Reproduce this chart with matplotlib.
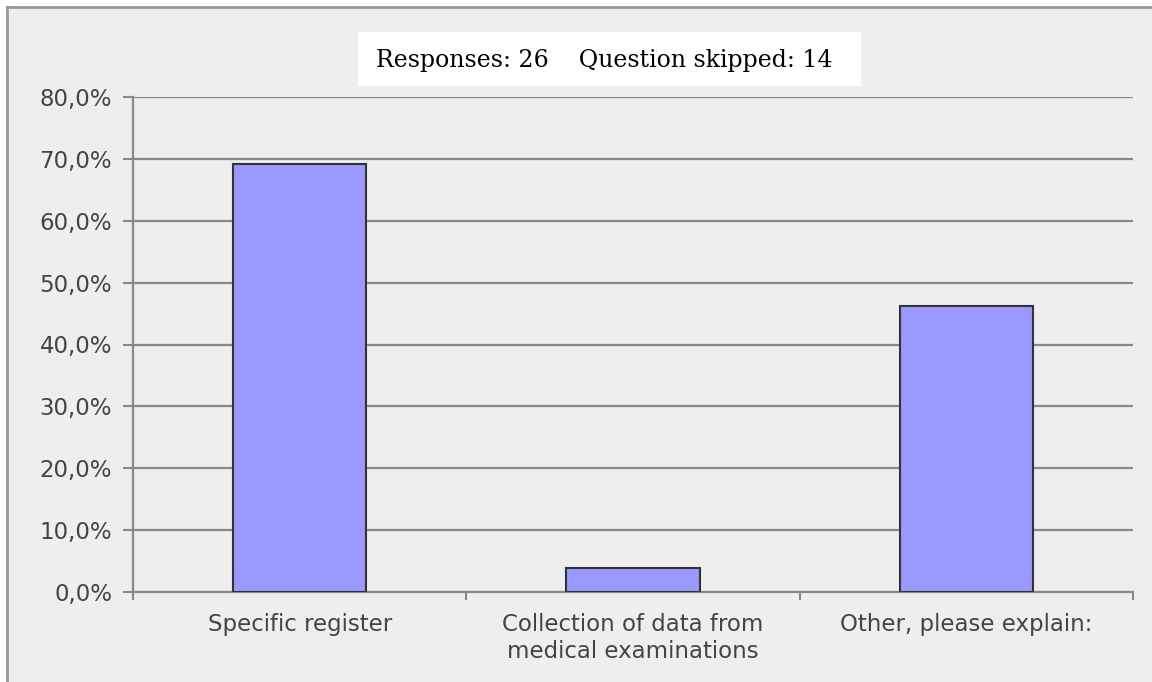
import matplotlib.pyplot as plt
from matplotlib.patches import Rectangle
from matplotlib.ticker import FixedLocator, FuncFormatter

categories = ['Specific register', 'Collection of data from\nmedical examinations', 'Other, please explain:']
values = [69.2, 3.8, 46.2]
yticks = [0, 10, 20, 30, 40, 50, 60, 70, 80]
title = 'Responses: 26    Question skipped: 14'

W, H = 1152, 682
fig = plt.figure(figsize=(W / 100, H / 100), dpi=100)
fig.patch.set_facecolor('white')

# grey panel with thin border on top and left
fig.patches.append(Rectangle((7 / W, 0), 1 - 7 / W, 1 - 7 / H, transform=fig.transFigure,
                             facecolor='#eeeeee', edgecolor='none', zorder=-2))
fig.add_artist(plt.Line2D([7 / W, 7 / W], [0, 1 - 7 / H], transform=fig.transFigure, color='#999999', lw=2))
fig.add_artist(plt.Line2D([7 / W, 1], [1 - 7 / H, 1 - 7 / H], transform=fig.transFigure, color='#999999', lw=2))

ax = fig.add_axes([133 / W, 1 - 592 / H, 1000 / W, 495 / H])
ax.set_facecolor('none')
ax.set_zorder(1)

x = list(range(len(categories)))
ax.bar(x, values, width=0.4, color='#9999ff', edgecolor='#333333', linewidth=1.5, zorder=3)

ax.set_xlim(-0.5, 2.5)
ax.set_ylim(0, 80)
ax.set_yticks(yticks)
ax.yaxis.set_major_formatter(FuncFormatter(lambda v, p: ('%.1f%%' % v).replace('.', ',')))
ax.grid(axis='y', color='#888888', linewidth=1.6, zorder=1)

ax.xaxis.set_major_locator(FixedLocator([-0.5, 0.5, 1.5, 2.5]))
ax.xaxis.set_major_formatter(FuncFormatter(lambda v, p: ''))
ax.xaxis.set_minor_locator(FixedLocator(x))
ax.set_xticklabels(categories, minor=True, linespacing=1.25)
ax.tick_params(axis='x', which='minor', length=0, pad=15, labelsize=16.5, labelcolor='#444444')
ax.tick_params(axis='x', which='major', length=6, color='#888888', width=1.5)
ax.tick_params(axis='y', length=7, color='#888888', width=1.5, labelsize=16.5, labelcolor='#444444', pad=8)
for lbl in ax.get_xticklabels(minor=True) + ax.get_yticklabels():
    lbl.set_fontfamily('DejaVu Sans')

for s in ['top', 'right']:
    ax.spines[s].set_visible(False)
for s in ['left', 'bottom']:
    ax.spines[s].set_color('#888888')
    ax.spines[s].set_linewidth(1.6)

# title box
fig.patches.append(Rectangle((358 / W, 1 - 86 / H), 503 / W, 54 / H, transform=fig.transFigure,
                             facecolor='white', edgecolor='none', zorder=2))
fig.text(604 / W, 1 - 60 / H, title, ha='center', va='center', fontsize=17,
         family='DejaVu Serif', color='black', zorder=3)

fig.savefig('out.png', dpi=100)
